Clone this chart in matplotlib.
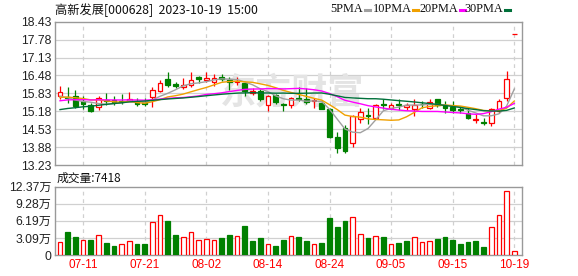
import numpy as np
import matplotlib
matplotlib.use('Agg')
import matplotlib.pyplot as plt
from matplotlib.lines import Line2D

# ---------------- data ----------------
title_text = '高新发展[000628]  2023-10-19  15:00'

# closes before the first visible bar (inferred from MA start levels)
prior_close = [14.45, 14.50, 14.48, 14.55, 14.60, 14.58, 14.62, 14.65, 14.72, 14.85,
               15.05, 15.20, 15.38, 15.45, 15.52, 15.60, 15.58, 15.55, 15.50, 15.57,
               15.55, 15.62, 15.70, 15.68, 15.65,
               15.92, 15.80, 15.70, 15.31]

open_ = [15.73, 15.70, 15.75, 15.55, 15.39, 15.35, 15.59, 15.58, 15.56, 15.56,
         15.52, 15.50, 15.71, 15.91, 16.35, 16.18, 16.07, 16.14, 16.41, 16.31,
         16.23, 16.44, 16.33, 16.25, 16.20, 15.84, 15.93, 15.42, 15.77, 15.43,
         15.42, 15.67, 15.61, 15.55, 15.49, 15.25, 14.23, 14.58, 14.02, 14.89,
         15.06, 14.93, 15.43, 15.31, 15.44, 15.35, 15.25, 15.46, 15.30, 15.61,
         15.39, 15.35, 15.26, 15.13, 14.85, 14.80, 14.77, 15.19, 15.65, 17.99]
high = [16.11, 16.06, 15.95, 15.73, 15.49, 15.73, 15.85, 15.72, 15.81, 15.89,
        15.66, 15.66, 16.07, 16.33, 16.59, 16.26, 16.39, 16.59, 16.45, 16.59,
        16.54, 16.54, 16.43, 16.43, 16.21, 16.03, 15.99, 15.78, 15.81, 15.47,
        15.71, 16.07, 16.03, 15.67, 15.55, 15.31, 14.42, 14.67, 15.06, 15.29,
        15.31, 15.45, 15.61, 15.47, 15.63, 15.49, 15.61, 15.55, 15.61, 15.63,
        15.55, 15.55, 15.35, 15.31, 15.09, 14.95, 15.31, 15.63, 16.65, 17.99]
low = [15.61, 15.47, 15.31, 15.25, 15.15, 15.22, 15.41, 15.40, 15.44, 15.55,
       15.38, 15.38, 15.33, 15.87, 16.07, 16.02, 15.97, 16.07, 16.21, 16.26,
       16.09, 16.27, 15.95, 16.12, 15.73, 15.77, 15.55, 15.19, 15.45, 15.19,
       15.31, 15.55, 15.43, 15.31, 15.25, 14.22, 13.68, 13.68, 13.89, 14.77,
       14.71, 14.89, 15.25, 15.25, 15.23, 15.21, 15.01, 15.31, 15.27, 15.35,
       15.13, 15.13, 15.13, 14.89, 14.77, 14.67, 14.65, 15.13, 15.55, 17.99]
close = [15.89, 15.67, 15.37, 15.43, 15.18, 15.65, 15.55, 15.50, 15.53, 15.61,
         15.45, 15.43, 15.94, 16.19, 16.15, 16.09, 16.14, 16.33, 16.34, 16.37,
         16.40, 16.34, 16.26, 16.28, 15.93, 15.90, 15.61, 15.75, 15.52, 15.39,
         15.65, 15.63, 15.53, 15.58, 15.27, 14.26, 13.84, 13.74, 15.00, 15.17,
         15.02, 15.41, 15.40, 15.42, 15.40, 15.39, 15.41, 15.43, 15.51, 15.39,
         15.29, 15.24, 15.22, 14.95, 14.89, 14.77, 15.25, 15.57, 16.35, 17.99]
# volume in 万 (10k shares)
volume = [2.30, 4.18, 3.27, 2.67, 2.73, 3.58, 2.18, 1.64, 1.94, 2.48,
          2.00, 2.00, 5.94, 7.21, 6.18, 3.64, 3.21, 4.12, 2.67, 2.85,
          2.67, 3.09, 3.64, 3.39, 5.27, 2.55, 3.09, 1.94, 1.64, 2.67,
          3.39, 3.27, 2.55, 1.94, 2.18, 6.73, 5.09, 6.18, 6.85, 3.76,
          3.09, 3.39, 3.27, 1.94, 2.18, 2.55, 3.21, 2.30, 2.48, 2.91,
          3.27, 2.73, 2.00, 2.36, 2.55, 1.45, 5.03, 7.21, 11.57, 0.74]
last_volume = 7418

date_idx = [3, 11, 19, 27, 35, 43, 51, 59]
date_labels = ['07-11', '07-21', '08-02', '08-14', '08-24', '09-05', '09-15', '10-19']
price_ticks = [13.23, 13.88, 14.53, 15.18, 15.83, 16.48, 17.13, 17.78, 18.43]
vol_ticks = [0, 3.09, 6.19, 9.28, 12.37]
vol_tick_labels = ['0', '3.09万', '6.19万', '9.28万', '12.37万']
ma_periods = [5, 10, 20, 30]
ma_names = ['5PMA', '10PMA', '20PMA', '30PMA']
watermark = '东方财富'

# ---------------- style ----------------
RED = '#ff0000'
GREEN = '#008000'
MA_COLORS = ['#a0a0a0', '#f0a000', '#ff00ff', '#00703a']
GRID = '#d0d0d0'
FRAME = '#999999'
W, H = 578, 276
LAT = ['Liberation Sans', 'Noto Sans CJK SC']
CJK = ['Noto Sans CJK SC', 'DejaVu Sans']

o = np.array(open_); h = np.array(high); l = np.array(low); c = np.array(close)
v = np.array(volume)
n = len(c)
x = np.arange(n)
prev_c = np.concatenate([[prior_close[-1]], c[:-1]])
candle_up = (c > o) | ((c == o) & (c >= prev_c))
vol_up = c >= prev_c

full = np.array(prior_close + close)
mas = []
for p in ma_periods:
    m = np.convolve(full, np.ones(p) / p, mode='valid')
    mas.append(m[-n:])

fig = plt.figure(figsize=(W / 100, H / 100), dpi=100)
fig.patch.set_facecolor('white')


def fx(px):
    return px / W


def fy(py):
    return 1 - py / H


ax1 = fig.add_axes([fx(55), fy(165), fx(522) - fx(55), fy(21.7) - fy(165)])
ax2 = fig.add_axes([fx(55), fy(255), fx(522) - fx(55), fy(186.7) - fy(255)])

for ax in (ax1, ax2):
    ax.set_xlim(-0.65, n)
    for s in ax.spines.values():
        s.set_color(FRAME)
        s.set_linewidth(1.0)
    ax.tick_params(length=0)
    for xi in date_idx:
        ax.axvline(xi, color=GRID, lw=0.9, ls=(0, (3, 3)), zorder=0)

# price panel
ax1.set_ylim(price_ticks[0], price_ticks[-1])
ax1.set_yticks(price_ticks)
ax1.set_yticklabels([f'{t:.2f}' for t in price_ticks], family=LAT, fontsize=8.7, color='#222222')
ax1.tick_params(axis='y', pad=2.5)
ax1.set_xticks([])
for t in price_ticks[1:-1]:
    ax1.axhline(t, color=GRID, lw=0.9, zorder=0)

ax1.text(fx(292), fy(93), watermark, transform=fig.transFigure, ha='center', va='center',
         fontsize=26, family=CJK, fontweight='bold', color='#e4e4e4', zorder=0.5)

body_w = 0.62
for i in range(n):
    col = RED if candle_up[i] else GREEN
    ax1.vlines(x[i], l[i], h[i], color=col, lw=0.9, zorder=2)
    bottom = min(o[i], c[i])
    height = max(abs(c[i] - o[i]), 0.004)
    ax1.bar(x[i], height, bottom=bottom, width=body_w,
            facecolor='white' if candle_up[i] else col, edgecolor=col,
            linewidth=0.9, zorder=3)

for m, colr in zip(mas, MA_COLORS):
    ax1.plot(x, m, color=colr, lw=1.0, zorder=4)

# volume panel
ax2.set_ylim(0, vol_ticks[-1])
ax2.set_yticks(vol_ticks)
ax2.set_yticklabels(vol_tick_labels, family=LAT, fontsize=8.7, color='#222222')
ax2.tick_params(axis='y', pad=2.5)
for t in vol_ticks[1:-1]:
    ax2.axhline(t, color=GRID, lw=0.9, zorder=0)
for i in range(n):
    col = RED if vol_up[i] else GREEN
    ax2.bar(x[i], v[i], width=body_w, facecolor='white' if vol_up[i] else col,
            edgecolor=col, linewidth=0.9, zorder=3)
ax2.set_xticks(date_idx)
ax2.set_xticklabels(date_labels, family=LAT, fontsize=8.5, color=RED)
ax2.tick_params(axis='x', pad=3)

# header texts
fig.text(fx(55), fy(10), title_text, family=CJK, fontsize=8.8, color='#111111',
         ha='left', va='center')
fig.text(fx(57), fy(178), f'成交量:{last_volume}', family=CJK, fontsize=8.5,
         color='#111111', ha='left', va='center')

legend_dash = [(364.7, 369.7), (413, 418), (459.7, 464.5), (505, 510)]
for name, colr, (d0, d1) in zip(ma_names, MA_COLORS, legend_dash):
    fig.text(fx(d0 - 1.5), fy(9.5), name, family=['Liberation Serif'], fontsize=8.8,
             color='#111111', ha='right', va='center')
    fig.add_artist(Line2D([fx(d0), fx(d1)], [fy(9.5), fy(9.5)], color=colr, lw=2.2,
                          transform=fig.transFigure))

fig.savefig('out.png', dpi=100, facecolor='white')
